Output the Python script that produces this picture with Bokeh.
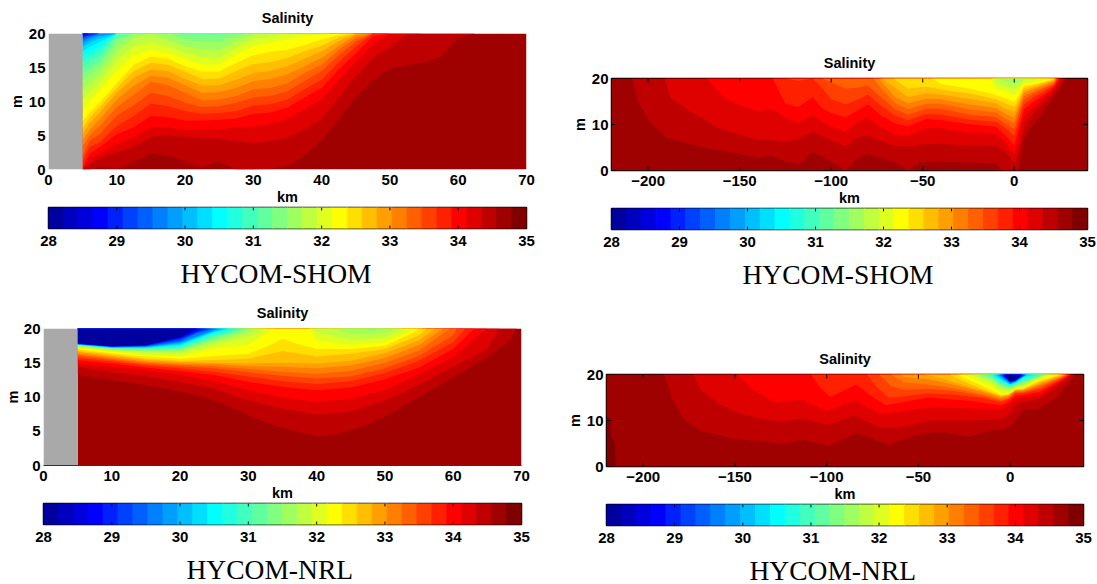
from bokeh.plotting import figure
from bokeh.layouts import column, row
from bokeh.models import FixedTicker, Range1d, Title
from bokeh.embed import file_html
from bokeh.resources import INLINE

# ---- data: depth (m) of each salinity band boundary ----
cbar_ticks = [28, 29, 30, 31, 32, 33, 34, 35]
near_ticks = [0, 10, 20, 30, 40, 50, 60, 70]
off_ticks = [-200, -150, -100, -50, 0]

A_km = [5, 6, 7.5, 10, 12.5, 15, 17.5, 20, 22.5, 25, 27.5, 30, 32.5, 35, 37.5, 40, 42.5, 45, 47.5, 50, 52.5, 55, 57.5, 60, 62.5]
A_rows = {
    30: [0, 0, .4, .1, 1.1, 2.3, 2, 1.2, .3, 1.3, 0, 0, .1, .6, 2, 4.2, 7.4, 10.6, 13, 14.9, 15.3, 15.7, 16.6, 19.3, 20],
    29: [0, .7, 1.6, 2.5, 3.3, 4.8, 5, 4.8, 4.6, 4.5, 4.2, 3.9, 4.2, 4.7, 5.9, 7.4, 10.6, 13.7, 16.4, 18.1, 19.8, 20],
    28: [0, 1.5, 2.3, 3.7, 4.7, 6.2, 6.2, 5.8, 5.8, 5.9, 6.2, 6.3, 6.7, 7.4, 8.9, 10.3, 13.2, 15.9, 18.4, 20],
    27: [.3, 2.3, 3.3, 5.2, 6.2, 7.9, 7.7, 7.2, 7.2, 7.3, 7.5, 8.2, 8.4, 9.1, 10.6, 12, 14.7, 17.1, 19.6, 20],
    26: [1.2, 3.3, 4, 6.4, 7.9, 9.7, 9.3, 8.6, 8.2, 8.3, 8.6, 9.4, 9.6, 10.3, 11.8, 13.2, 15.8, 18.1, 20],
    25: [2, 4.2, 5.2, 7.9, 9.5, 11.3, 10.8, 9.8, 9.2, 9.3, 9.8, 10.6, 10.8, 11.5, 13, 14.5, 16.8, 18.8, 20],
    24: [3.4, 5, 6.4, 9.2, 11, 12.9, 12.4, 11.3, 10.2, 10.3, 10.8, 11.8, 12, 12.7, 14.2, 15.4, 17.6, 19.3, 20],
    23: [4.3, 5.8, 7.4, 10.3, 12.3, 13.8, 13.5, 12.4, 11.3, 11.4, 12, 13, 13.3, 14, 15.2, 16.4, 18.2, 19.7, 20],
    22: [5.2, 6.8, 8.4, 11.3, 13.5, 14.7, 14.5, 13.3, 12.3, 12.4, 13.2, 14.2, 14.5, 15.2, 16.3, 17.4, 18.9, 19.9, 20],
    21: [6, 7.6, 9.2, 12, 14.5, 15.7, 15.4, 14.4, 13.3, 13.4, 14.5, 15.5, 15.8, 16.4, 17.4, 18.2, 19.4, 20],
    20: [7.1, 8.3, 9.9, 12.7, 15.4, 16.6, 16.3, 15.2, 14.4, 14.4, 15.7, 16.8, 17.3, 17.6, 18.3, 19.1, 19.8, 20],
    19: [8.7, 10, 11.6, 14.5, 16.8, 17.6, 17.1, 16.2, 15.4, 15.4, 16.8, 18.1, 18.6, 19.1, 19.6, 19.9, 20],
    18: [10.3, 11.3, 12.7, 16, 18.1, 18.7, 18.1, 17.1, 16.5, 16.4, 17.9, 19.1, 19.6, 20],
    17: [11.7, 12.7, 14, 17.2, 19.3, 19.9, 19.1, 18.1, 17.6, 17.5, 18.8, 19.9, 20],
    16: [13, 13.9, 15, 18.4, 20, 20, 20, 19, 18.8, 18.7, 19.7, 20],
    15: [14, 14.9, 15.8, 19.3, 20, 20, 20, 19.8, 19.8, 19.8, 20],
    14: [15, 15.8, 16.6, 20],
    13: [15.9, 16.6, 17.4, 20],
    12: [16.7, 17.3, 18.1, 20],
    11: [17.4, 18, 18.8, 20],
    10: [18, 18.6, 19.3, 20],
    9: [18.4, 19, 19.6, 20],
    8: [18.8, 19.3, 19.8, 20],
    7: [19.1, 19.5, 20],
    6: [19.3, 19.7, 20],
    5: [19.5, 19.8, 20],
    4: [19.7, 19.9, 20],
    3: [19.8, 20],
    2: [19.9, 20],
}

B_iso = {
    30: [(-208.6, 20), (-206, 15.5), (-200, 11), (-190, 7.1), (-170, 5), (-150, 3.6), (-140, 2.8), (-132, 3.2), (-125, 2), (-118, 1.3), (-110, 4), (-105, 3), (-100, 2), (-92, 0), (-86, 2.5), (-80, 3.6), (-73, 2.7), (-65, 1.8), (-58, 0), (-52, 1.8), (-40, 1.9), (-25, 1.7), (-10, 1.4), (-7, 0), (2.5, 0), (3.7, 3), (5.2, 6.7), (8, 8.8), (10.6, 9.9), (16, 12.8), (21.6, 16), (26, 18.6), (28, 20)],
    29: [(-191, 20), (-187.6, 15.7), (-177, 12.8), (-170, 11.3), (-162, 9.3), (-150, 7.7), (-140, 6.7), (-132, 6.6), (-125, 6.2), (-118, 6.9), (-110, 8.4), (-105, 7.5), (-100, 6.6), (-92, 5.2), (-86, 7), (-80, 7.7), (-73, 6.4), (-65, 5.4), (-58, 5.2), (-48, 5.7), (-40, 5.8), (-25, 5.4), (-10, 5.3), (-5, 4.4), (0, 1.5), (2.5, 4.1), (5.2, 9.2), (10.6, 12.5), (16, 14.6), (21.6, 17.2), (27, 20)],
    28: [(-168, 20), (-158, 15.7), (-150, 14.2), (-140, 12.9), (-132, 13.3), (-125, 11.5), (-118, 10.3), (-110, 12), (-105, 10.5), (-100, 9.5), (-92, 8.4), (-86, 10.5), (-80, 11.5), (-73, 9.5), (-65, 7.7), (-58, 7.5), (-48, 9.2), (-40, 9.2), (-25, 8.2), (-10, 8), (-5, 6.2), (0, 3.5), (2.5, 7), (5.2, 11.7), (10.6, 13.9), (16, 15.7), (21.6, 17.7), (25.5, 20)],
    27: [(-132, 20), (-125, 14.5), (-118, 13.8), (-110, 16), (-105, 13.5), (-100, 12.5), (-92, 11.6), (-86, 13), (-80, 14.4), (-73, 12), (-65, 10.2), (-58, 9.6), (-48, 11.2), (-40, 11), (-25, 10.1), (-10, 9.5), (-5, 7.7), (0, 5.5), (2.5, 9.2), (5.2, 13.2), (10.6, 15), (16, 16.4), (21.6, 18.1), (24.5, 20)],
    26: [(-125, 20), (-118, 19.5), (-110, 20), (-105, 18), (-100, 15.5), (-92, 14.4), (-86, 15.3), (-80, 16.5), (-73, 14.2), (-65, 11.9), (-58, 10.9), (-48, 12.3), (-40, 12.2), (-25, 11.1), (-10, 10.6), (-5, 9.3), (0, 7.5), (2.5, 11), (5.2, 14.3), (10.6, 15.9), (16, 17.1), (21.6, 18.6), (23.8, 20)],
    25: [(-105, 20), (-92, 17.8), (-86, 18), (-80, 18.5), (-73, 16), (-65, 13.3), (-58, 12.1), (-48, 13.4), (-40, 13.4), (-25, 12.2), (-10, 11.6), (-5, 10.2), (0, 9), (2.5, 12.1), (5.2, 15.2), (10.6, 16.7), (16, 17.7), (21.6, 18.8), (23.4, 20)],
    24: [(-77, 20), (-73, 18), (-65, 14.6), (-58, 13.3), (-48, 14.5), (-40, 14.5), (-25, 13.3), (-10, 12.6), (-5, 11.3), (0, 10.3), (2.5, 13.2), (5.2, 16.1), (10.6, 17.2), (16, 18.1), (21.6, 19.1), (23, 20)],
    23: [(-74, 20), (-65, 16), (-58, 14.6), (-48, 15.6), (-40, 15.5), (-25, 14.4), (-10, 13.6), (-5, 12.4), (0, 11.5), (2.5, 14), (5.2, 16.8), (10.6, 17.7), (16, 18.5), (21.6, 19.4), (22.7, 20)],
    22: [(-72, 20), (-65, 18), (-58, 16), (-48, 16.8), (-40, 16.5), (-25, 15.6), (-10, 14.6), (-5, 13.5), (0, 12.7), (2.5, 14.8), (5.2, 17.4), (10.6, 18.1), (16, 18.8), (21.6, 19.6), (22.4, 20)],
    21: [(-66, 20), (-58, 17.8), (-48, 18.2), (-40, 17.6), (-25, 16.8), (-10, 15.5), (-5, 14.6), (0, 13.9), (2.5, 15.5), (5.2, 17.9), (10.6, 18.5), (16, 19), (21.6, 19.8), (22.1, 20)],
    20: [(-45, 20), (-40, 18.8), (-25, 17.9), (-10, 16.4), (-5, 15.7), (0, 15), (2.5, 16.4), (5.2, 18.4), (10.6, 18.8), (16, 19.3), (21.6, 19.9), (22, 20)],
    19: [(-13, 20), (-10, 17.6), (-5, 17.2), (0, 16.3), (2.5, 17.4), (5.2, 19), (10.6, 19.2), (16, 19.6), (20, 20)],
    18: [(-11, 20), (-10, 19), (-5, 18.2), (0, 17.6), (2.5, 18.3), (5.2, 19.5), (10.6, 19.6), (14, 20)],
    17: [(-10, 20), (-5, 19.3), (0, 18.9), (2.5, 19), (5.2, 19.9), (8, 20)],
}

C_iso = {
    30: [(5, 13.2), (10, 12.5), (15, 11.7), (20, 10.8), (22.5, 10.3), (25, 9.5), (27.5, 8.5), (30, 7.3), (32.5, 6.3), (35, 5.5), (37.5, 4.9), (40, 4.2), (42.5, 4.4), (45, 5.2), (47.5, 6), (50, 7.1), (55, 10), (60, 12.9), (65, 15.8), (68, 18), (69.3, 20)],
    29: [(5, 14.4), (10, 13.7), (15, 13), (20, 12.2), (25, 11.2), (30, 9.5), (35, 8.3), (40, 7.5), (45, 7.9), (50, 9.5), (55, 11.8), (60, 14.4), (65, 17), (66.7, 20)],
    28: [(5, 14.9), (10, 14.4), (15, 13.9), (20, 13.3), (25, 12.3), (30, 11), (35, 9.9), (40, 9.3), (45, 9.7), (50, 11), (55, 13.3), (60, 15.8), (64.9, 20)],
    27: [(5, 15.4), (10, 14.9), (15, 14.3), (20, 13.8), (25, 13.2), (30, 12.2), (35, 11.5), (40, 11), (45, 11.4), (50, 12.6), (55, 14.3), (60, 17), (63.1, 20)],
    26: [(5, 15.7), (10, 15.2), (15, 14.6), (20, 14.2), (25, 13.7), (30, 13), (35, 12.3), (40, 11.9), (45, 12.3), (50, 13.5), (55, 15.3), (60, 18), (61.8, 20)],
    25: [(5, 16), (10, 15.4), (15, 14.8), (20, 14.5), (25, 14.2), (30, 13.6), (35, 13.1), (40, 12.7), (45, 13), (50, 14.2), (55, 16), (60, 19), (60.5, 20)],
    24: [(5, 16.2), (10, 15.6), (15, 15), (20, 14.7), (25, 14.5), (30, 14.1), (35, 13.7), (40, 13.4), (45, 13.8), (50, 15), (55, 16.8), (59.5, 20)],
    23: [(5, 16.4), (10, 15.8), (15, 15.2), (20, 14.9), (25, 14.8), (30, 14.5), (35, 14.4), (40, 14.2), (45, 14.6), (50, 15.7), (55, 17.6), (58.5, 20)],
    22: [(5, 16.6), (10, 16), (15, 15.4), (20, 15.1), (25, 15), (30, 14.9), (35, 15), (40, 14.9), (45, 15.3), (50, 16.4), (55, 18.3), (57.4, 20)],
    21: [(5, 16.8), (10, 16.2), (15, 15.6), (20, 15.3), (25, 15.4), (30, 15.6), (35, 16.7), (40, 15.9), (45, 16.3), (50, 17), (55, 19), (56.1, 20)],
    20: [(5, 17), (10, 16.4), (15, 15.9), (20, 15.6), (25, 16), (30, 16.3), (33, 17.5), (35, 18.5), (37, 17.8), (40, 17), (45, 17), (50, 17.5), (55, 19.8), (55.5, 20)],
    19: [(5, 17.2), (10, 16.6), (15, 16.1), (20, 15.9), (25, 17), (30, 17.6), (33, 19.5), (33.8, 20), (38.9, 20), (40, 18.2), (45, 17.6), (50, 18), (54.9, 20)],
    18: [(5, 17.3), (10, 16.8), (15, 16.4), (20, 16.3), (25, 17.6), (30, 18.8), (32.7, 20), (39, 20), (41, 19.2), (45, 18.3), (50, 18.7), (53, 20)],
    17: [(5, 17.4), (10, 16.9), (15, 16.6), (20, 16.6), (25, 18), (30, 19.4), (31.8, 20), (41, 20), (43, 19.8), (45, 19.2), (50, 19.4), (52.5, 20)],
    16: [(5, 17.5), (10, 17), (15, 16.8), (20, 16.8), (25, 18.3), (30, 19.8), (30.7, 20), (43, 20), (45, 19.9), (48, 19.7), (50, 19.9), (51, 20)],
    15: [(5, 17.55), (10, 17.05), (15, 16.95), (20, 17), (25, 18.6), (28, 19.5), (30, 20), (47, 20), (48, 19.9), (49, 20)],
    14: [(5, 17.6), (10, 17.1), (15, 17.05), (20, 17.15), (25, 18.9), (29.3, 20)],
    13: [(5, 17.62), (10, 17.15), (15, 17.1), (20, 17.3), (25, 19.1), (28.7, 20)],
    12: [(5, 17.64), (10, 17.2), (15, 17.15), (20, 17.45), (25, 19.3), (28, 20)],
    11: [(5, 17.66), (10, 17.22), (15, 17.2), (20, 17.6), (25, 19.5), (27.3, 20)],
    10: [(5, 17.68), (10, 17.25), (15, 17.25), (20, 17.75), (25, 19.6), (26.8, 20)],
    9: [(5, 17.7), (10, 17.28), (15, 17.3), (20, 17.9), (25, 19.7), (26.3, 20)],
    8: [(5, 17.72), (10, 17.3), (15, 17.35), (20, 18), (25, 19.8), (25.8, 20)],
    7: [(5, 17.74), (10, 17.33), (15, 17.4), (20, 18.15), (22.5, 19.3), (25.3, 20)],
    6: [(5, 17.76), (10, 17.35), (15, 17.45), (20, 18.3), (22.5, 19.4), (24.8, 20)],
    5: [(5, 17.78), (10, 17.37), (15, 17.5), (20, 18.45), (22.5, 19.5), (24.3, 20)],
    4: [(5, 17.8), (10, 17.4), (15, 17.55), (20, 18.6), (22.5, 19.65), (23.7, 20)],
    3: [(5, 17.82), (10, 17.42), (15, 17.6), (20, 18.7), (22, 19.7), (23, 20)],
    2: [(5, 17.84), (10, 17.45), (15, 17.6), (20, 18.75), (21, 19.5), (22.7, 20)],
    1: [(5, 17.86), (10, 17.5), (15, 17.6), (20, 18.8), (22.4, 20)],
}

D_iso = {
    31: [(-220, 11), (-217.8, 10.5), (-217.6, 6.5), (-215.4, 5.3), (-215.2, 0), (40, 0)],
    30: [(-188.6, 20), (-184, 14.5), (-177.5, 10), (-169, 7.8), (-150, 6), (-132, 5.3), (-123, 4.9), (-113, 5.8), (-99, 4.4), (-88, 6.4), (-84, 7.2), (-79, 6.7), (-66, 4.7), (-55, 6.4), (-43, 7.4), (-35, 7.4), (-22, 6.5), (-9, 8), (-4, 7.9), (1, 9), (7, 12.2), (16, 12.6), (26, 15.2), (34.7, 19.5), (35.3, 20)],
    29: [(-172.4, 20), (-168.6, 16.6), (-159, 13.7), (-147.6, 11.5), (-136, 10.4), (-125, 9.8), (-113, 10.4), (-100, 9), (-85, 11.1), (-70.5, 8.4), (-60, 8.5), (-43, 10), (-22, 10), (-5, 10.2), (-1, 11.1), (3, 13.3), (7, 14), (16, 14.8), (26, 17.5), (34, 20)],
    28: [(-148.6, 20), (-140, 16.7), (-128.6, 14), (-113, 14.5), (-100, 12), (-84.8, 14.4), (-70.5, 11.3), (-60, 11.9), (-43, 12.9), (-22, 12.6), (-5, 12.4), (-1, 13.3), (3, 14.6), (7, 15), (16, 15.5), (26, 18), (33.5, 20)],
    27: [(-108.6, 20), (-103.8, 17.3), (-98, 15.1), (-90.5, 16.6), (-83.8, 17.8), (-75, 15.1), (-67.6, 13.3), (-58, 14), (-44.8, 15), (-22, 14.3), (-5, 13.3), (-1, 14), (3, 15.3), (7, 15.5), (16, 16.2), (26, 18.3), (33, 20)],
    26: [(-78, 20), (-72, 17), (-66, 15), (-58, 15.2), (-45, 15.9), (-30, 15.6), (-15, 14.9), (-5, 14), (-1, 14.5), (3, 15.8), (7, 15.9), (16, 16.7), (26, 18.6), (32, 20)],
    25: [(-71.4, 20), (-65, 17.5), (-58, 16.7), (-45, 16.9), (-30, 16.4), (-15, 15.3), (-5, 14.3), (-1, 14.8), (3, 16.1), (7, 16.1), (16, 17.1), (26, 18.9), (31.5, 20)],
    24: [(-64.8, 20), (-58, 18.3), (-45, 17.8), (-30, 17), (-15, 15.7), (-5, 14.6), (-1, 15), (3, 16.3), (7, 16.3), (16, 17.5), (26, 19.1), (31, 20)],
    23: [(-60, 20), (-58, 19.5), (-45, 19), (-30, 17.7), (-15, 16.2), (-5, 15), (-1, 15.3), (3, 16.5), (7, 16.5), (16, 17.8), (26, 19.3), (30.5, 20)],
    22: [(-47, 20), (-38, 19.3), (-30, 18.2), (-15, 16.5), (-5, 15.2), (-1, 15.5), (3, 16.6), (7, 16.7), (16, 18.1), (26, 19.5), (30, 20)],
    21: [(-33, 20), (-25, 18.5), (-15, 16.8), (-5, 15.4), (-1, 15.6), (3, 16.7), (7, 16.8), (16, 18.4), (26, 19.7), (29, 20)],
    20: [(-29, 20), (-15, 17.5), (-5, 15.6), (-1, 15.8), (3, 16.9), (7, 17), (16, 18.7), (26, 19.9), (28, 20)],
    19: [(-26, 20), (-10, 17.5), (-5, 16), (0, 16), (3, 17), (7, 17.2), (16, 19), (27, 20)],
    18: [(-22, 20), (-10, 18.1), (-5, 16.6), (0, 16.5), (3, 17.2), (7, 17.4), (16, 19.4), (25, 20)],
    17: [(-20, 20), (-10, 18.6), (-5, 17.1), (0, 16.8), (3, 17.4), (7, 17.7), (16, 19.7), (23.5, 20)],
    16: [(-18, 20), (-10, 19), (-5, 17.5), (0, 17), (3, 17.6), (7, 18), (16, 19.9), (22, 20)],
    15: [(-16, 20), (-10, 19.3), (-5, 17.8), (0, 17.2), (3, 17.7), (7, 18.3), (20, 20)],
    14: [(-14, 20), (-10, 19.6), (-5, 18.1), (0, 17.4), (3, 17.9), (7, 18.6), (18.5, 20)],
    13: [(-12, 20), (-10, 19.8), (-5, 18.4), (0, 17.5), (3, 18), (7, 18.9), (17, 20)],
    12: [(-11, 20), (-5, 18.7), (0, 17.7), (3, 18.1), (7, 19.2), (15, 20)],
    11: [(-9, 20), (-5, 18.9), (0, 17.8), (3, 18.2), (7, 19.4), (13, 20)],
    10: [(-8, 20), (-5, 19.2), (0, 17.9), (3, 18.3), (7, 19.6), (11, 20)],
    9: [(-7, 20), (-5, 19.4), (0, 18), (3, 18.4), (7, 19.7), (10, 20)],
    8: [(-6.4, 20), (-5, 19.6), (0, 18.1), (3, 18.5), (9, 20)],
    7: [(-5.8, 20), (-5, 19.8), (0, 18.2), (3, 18.6), (8.5, 20)],
    6: [(-5.2, 20), (0, 18.3), (3, 18.65), (8, 20)],
    5: [(-4.6, 20), (0, 18.35), (3, 18.7), (7.5, 20)],
    4: [(-4, 20), (0, 18.4), (3, 18.75), (7, 20)],
    3: [(-3.5, 20), (0, 18.45), (3, 18.8), (6.5, 20)],
    2: [(-3, 20), (0, 18.5), (3, 18.85), (6, 20)],
    1: [(-2.5, 20), (0, 18.6), (3, 18.9), (5.5, 20)],
}


def jet32():
    u = [i / 8 for i in range(1, 9)] + [1.0] * 7 + [i / 8 for i in range(8, 0, -1)]
    r, g, b = [0.0] * 32, [0.0] * 32, [0.0] * 32
    for i, v in enumerate(u):
        gi, ri, bi = i + 4, i + 12, i - 4
        if gi < 32:
            g[gi] = v
        if ri < 32:
            r[ri] = v
        if 0 <= bi < 32:
            b[bi] = v
    return ["#%02x%02x%02x" % (round(r[i] * 255), round(g[i] * 255), round(b[i] * 255)) for i in range(32)]


JET = jet32()
SANS = "Liberation Sans"


def rows_to_iso(stations, rows):
    out = {}
    for k, r in rows.items():
        pts = list(zip(stations, r))
        if r[-1] < 20:
            pts.append((stations[len(r)], 20))
        out[k] = pts
    return out


def style(p, ticker):
    for ax in p.xaxis + p.yaxis:
        ax.major_label_text_font = SANS
        ax.major_label_text_font_style = "bold"
        ax.major_label_text_font_size = "15px"
        ax.major_label_text_color = "#000000"
        ax.major_tick_in = 0
        ax.major_tick_out = 0
        ax.minor_tick_line_color = None
        ax.axis_line_color = None
        ax.major_tick_line_color = "#000000"
        ax.axis_label_text_font = SANS
        ax.axis_label_text_font_style = "bold"
        ax.axis_label_text_font_size = "14.5px"
        ax.axis_label_text_color = "#000000"
    p.xaxis.ticker = FixedTicker(ticks=ticker)
    p.grid.visible = False
    p.outline_line_color = None
    p.background_fill_color = "#ffffff"
    p.border_fill_color = "#ffffff"


def section(iso, xr, xticks, frame, borders, mask=None, box=False, ylabel_standoff=1, bottom_line=False):
    L, R, T, B = borders
    fw, fh = frame
    p = figure(width=L + fw + R, height=T + fh + B, x_range=Range1d(*xr), y_range=Range1d(0, 20),
               toolbar_location=None, output_backend="svg", min_border_left=L, min_border_right=R,
               min_border_top=T, min_border_bottom=B, title="Salinity", tools="", frame_align=False,
               margin=(0, 0, -3, 0))
    p.title.align = "center"
    p.title.text_font = SANS
    p.title.text_font_size = "14.5px"
    p.title.text_font_style = "bold"
    p.title.text_color = "#000000"
    p.title.standoff = 15
    p.quad(left=[mask if mask else xr[0]], right=[xr[1]], bottom=[0], top=[20], fill_color=JET[max(iso)], line_color=None)
    xs, ys, cols = [], [], []
    for k in sorted(iso, reverse=True):
        kms = [a for a, _ in iso[k]]
        dep = [b for _, b in iso[k]]
        xs.append(kms + [kms[-1], kms[0]])
        ys.append(dep + [20, 20])
        cols.append(JET[k - 1])
    p.patches(xs, ys, fill_color=cols, line_color=None)
    if mask:
        p.quad(left=[xr[0]], right=[mask], bottom=[0], top=[20], fill_color="#a9a9a9", line_color=None)
    style(p, xticks)
    p.yaxis.ticker = FixedTicker(ticks=[0, 5, 10, 15, 20] if mask else [0, 10, 20])
    p.xaxis.axis_label = "km"
    p.xaxis.axis_label_standoff = 1
    p.xaxis.major_label_standoff = 5
    p.yaxis.axis_label = "m"
    p.yaxis.axis_label_standoff = ylabel_standoff
    p.yaxis.major_label_standoff = 3
    if bottom_line:
        p.xaxis.axis_line_color = "#333333"
    if box:
        p.outline_line_color = "#000000"
        p.outline_line_width = 1.5
        yticks = [0, 10, 20]
        dx = (xr[1] - xr[0]) * 4 / fw
        dy = 20 * 4 / fh
        p.segment(x0=xticks, x1=xticks, y0=[0] * len(xticks), y1=[dy] * len(xticks), line_color="#000000")
        p.segment(x0=xticks, x1=xticks, y0=[20] * len(xticks), y1=[20 - dy] * len(xticks), line_color="#000000")
        p.segment(x0=[xr[0]] * 3, x1=[xr[0] + dx] * 3, y0=yticks, y1=yticks, line_color="#000000")
        p.segment(x0=[xr[1]] * 3, x1=[xr[1] - dx] * 3, y0=yticks, y1=yticks, line_color="#000000")
    return p


def cbar(frame, borders, caption, cap_offset, cap_standoff):
    L, R, T, B = borders
    fw, fh = frame
    p = figure(width=L + fw + R, height=T + fh + B, x_range=Range1d(28, 35), y_range=Range1d(0, 1),
               toolbar_location=None, output_backend="svg", min_border_left=L, min_border_right=R,
               min_border_top=T, min_border_bottom=B, tools="", frame_align=False)
    edges = [28 + 7 * i / 32 for i in range(33)]
    p.quad(left=edges[:-1], right=edges[1:], bottom=0, top=1, fill_color=JET, line_color=JET)
    p.segment(x0=cbar_ticks, x1=cbar_ticks, y0=[0] * 8, y1=[0.14] * 8, line_color="#000000")
    p.segment(x0=cbar_ticks, x1=cbar_ticks, y0=[1] * 8, y1=[0.86] * 8, line_color="#000000")
    style(p, cbar_ticks)
    p.yaxis.visible = False
    p.xaxis.major_label_standoff = 7
    p.outline_line_color = "#000000"
    p.outline_line_width = 1.5
    p.add_layout(Title(text=caption, align="left", offset=cap_offset, standoff=cap_standoff,
                       text_font="Liberation Serif", text_font_size="27.5px", text_font_style="normal",
                       text_color="#000000"), "below")
    return p


a = section(rows_to_iso(A_km, A_rows), (0, 70), near_ticks, (478, 137), (48, 22, 32, 39), mask=5)
ac = cbar((478, 22), (48, 22, 2, 66), "HYCOM-SHOM", 132, 14)
c = section(C_iso, (0, 70), near_ticks, (478, 137), (43, 27, 33, 39), mask=5, ylabel_standoff=0, bottom_line=True)
cc = cbar((478, 22), (43, 27, 2, 66), "HYCOM-NRL", 143, 14)
b = section(B_iso, (-220, 40), off_ticks, (476, 92), (63, 10, 78, 39), box=True)
bc = cbar((476, 22), (63, 10, 2, 66), "HYCOM-SHOM", 131, 14)
d = section(D_iso, (-220, 40), off_ticks, (477, 92), (58, 14, 78, 39), box=True)
dc = cbar((477, 22), (58, 14, 2, 66), "HYCOM-NRL", 143, 14)

page = row(column(a, ac, c, cc, spacing=0), column(b, bc, d, dc, spacing=0), spacing=0,
           height=584, sizing_mode="fixed", styles={"overflow": "hidden"})
open("out.html", "w").write(file_html(page, INLINE))
